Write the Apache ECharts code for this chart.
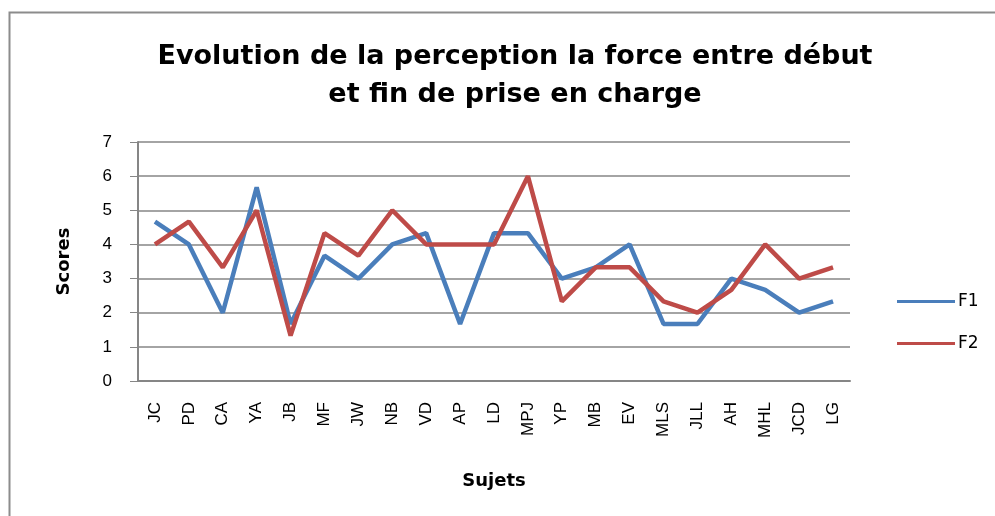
<!DOCTYPE html>
<html>
<head>
<meta charset="utf-8">
<script src="https://cdn.jsdelivr.net/npm/echarts@6/dist/echarts.min.js"></script>
<style>
html, body { margin: 0; padding: 0; background: #fff; }
#chart { width: 995px; height: 516px; }
</style>
</head>
<body>
<div id="chart"></div>
<script>
var sujets = ['JC','PD','CA','YA','JB','MF','JW','NB','VD','AP','LD','MPJ','YP','MB','EV','MLS','JLL','AH','MHL','JCD','LG'];
var f1 = [4.67,4,2,5.67,1.67,3.67,3,4,4.33,1.67,4.33,4.33,3,3.33,4,1.67,1.67,3,2.67,2,2.33];
var f2 = [4,4.67,3.33,5,1.33,4.33,3.67,5,4,4,4,6,2.33,3.33,3.33,2.33,2,2.67,4,3,3.33];

var myChart = echarts.init(document.getElementById('chart'));
myChart.setOption({
	animation: false,
	title: {
		text: 'Evolution de la perception la force entre début\net fin de prise en charge',
		left: 510,
		textAlign: 'center',
		top: 33,
		textStyle: {
			fontFamily: 'DejaVu Sans',
			fontWeight: 'bold',
			fontSize: 27,
			lineHeight: 38,
			color: '#000'
		}
	},
	graphic: [{
		type: 'rect',
		shape: { x: 9.5, y: 12.5, width: 1000, height: 520 },
		style: { fill: 'none', stroke: '#8c8c8c', lineWidth: 2 }
	}],
	legend: {
		orient: 'vertical',
		left: 892,
		top: 288,
		itemWidth: 58,
		itemHeight: 3,
		itemGap: 25,
		icon: 'rect',
		textStyle: { fontFamily: 'DejaVu Sans', fontSize: 17, color: '#000', padding: [0, 0, 0, -2] },
		data: ['F1', 'F2']
	},
	grid: {
		left: 138,
		right: 145,
		top: 142,
		bottom: 135
	},
	xAxis: {
		type: 'category',
		data: sujets,
		boundaryGap: true,
		name: 'Sujets',
		nameLocation: 'middle',
		nameGap: 91,
		nameTextStyle: { fontFamily: 'DejaVu Sans', fontWeight: 'bold', fontSize: 18, color: '#000' },
		axisLine: { lineStyle: { color: '#868686', width: 2 } },
		axisTick: { length: 7, lineStyle: { color: '#868686', width: 1 } },
		axisLabel: {
			rotate: 90,
			interval: 0,
			margin: 21,
			fontFamily: 'Liberation Sans',
			fontSize: 17,
			color: '#000'
		}
	},
	yAxis: {
		type: 'value',
		min: 0,
		max: 7,
		interval: 1,
		name: 'Scores',
		nameLocation: 'middle',
		nameGap: 65,
		nameTextStyle: { fontFamily: 'DejaVu Sans', fontWeight: 'bold', fontSize: 18, color: '#000' },
		axisLine: { show: true, lineStyle: { color: '#868686', width: 2 } },
		axisTick: { show: true, inside: false, length: 8, lineStyle: { color: '#868686' } },
		axisLabel: { margin: 26, fontFamily: 'Liberation Sans', fontSize: 17, color: '#000' },
		splitLine: { lineStyle: { color: '#868686', width: 1.5 } }
	},
	series: [
		{
			name: 'F1',
			type: 'line',
			data: f1,
			showSymbol: false,
			symbol: 'none',
			itemStyle: { color: '#4A7EBB' },
			lineStyle: { color: '#4A7EBB', width: 4.5 }
		},
		{
			name: 'F2',
			type: 'line',
			data: f2,
			showSymbol: false,
			symbol: 'none',
			itemStyle: { color: '#BE4B48' },
			lineStyle: { color: '#BE4B48', width: 4.5 }
		}
	]
});
</script>
</body>
</html>
